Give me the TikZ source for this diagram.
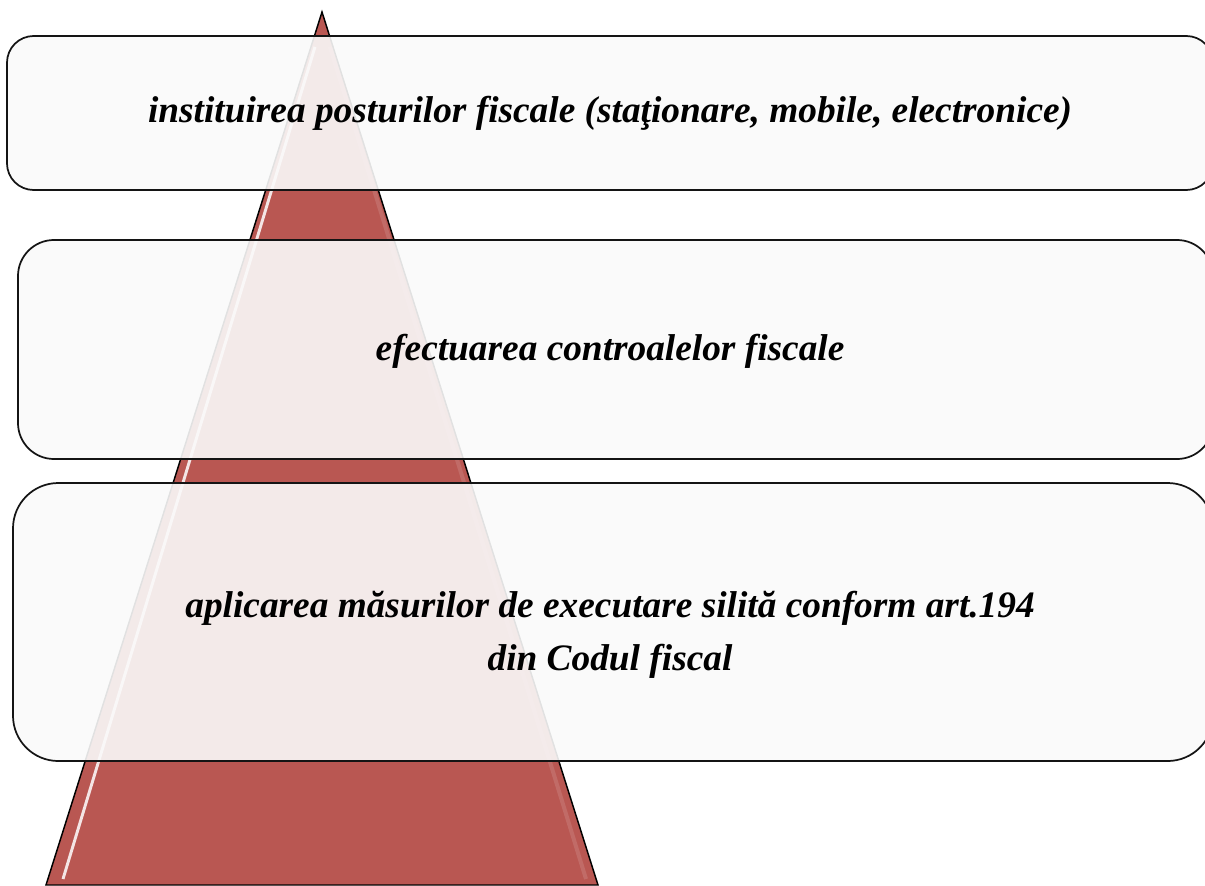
\documentclass[tikz,border=0pt]{standalone}
\usepackage{fontspec}
\setmainfont{Liberation Serif}
\usepackage{tikz}
\usetikzlibrary{calc}
\definecolor{pyr}{RGB}{185,87,82}
\definecolor{frame}{RGB}{20,20,20}

\begin{document}
\begin{tikzpicture}[
    x=0.75pt, y=-0.75pt,
    every node/.style={font=\fontsize{28}{40}\selectfont\bfseries\itshape, align=center},
    box/.style={draw=frame, line width=1.3pt, fill=white!98!black,
                fill opacity=.9, text opacity=1}]
      \useasboundingbox (0,0) rectangle (1205,885);
      \clip (0,0) rectangle (1205,885);

      % pyramid
      \coordinate (top) at (322,12);
      \coordinate (bl) at (46,885);
      \coordinate (br) at (598,885);
      \draw[fill=pyr, line width=1.1pt] (top) -- (bl) -- (br) -- cycle;
      \draw[white, opacity=.85, line width=2.2pt] ($(top)!.04!(bl)+(4,0)$) -- ($(bl)+(17,-6)$);
      \draw[white, opacity=.12, line width=3pt] ($(top)!.04!(br)+(-3,0)$) -- ($(br)+(-12,-6)$);

      % boxes
      \draw[box, rounded corners=20pt] (7,36) rectangle (1213,190);
      \draw[box, rounded corners=27pt] (18,240) rectangle (1213,459);
      \draw[box, rounded corners=34pt] (13,483) rectangle (1213,761);

      \node (t1) at (610,113) {instituirea posturilor fiscale (staţionare, mobile, electronice)};
      \node (t2) at (610,351) {efectuarea controalelor fiscale};
      \node (t3) at (610,635) {aplicarea măsurilor de executare silită conform art.194\\
                                din Codul fiscal};

    \end{tikzpicture}
\end{document}
